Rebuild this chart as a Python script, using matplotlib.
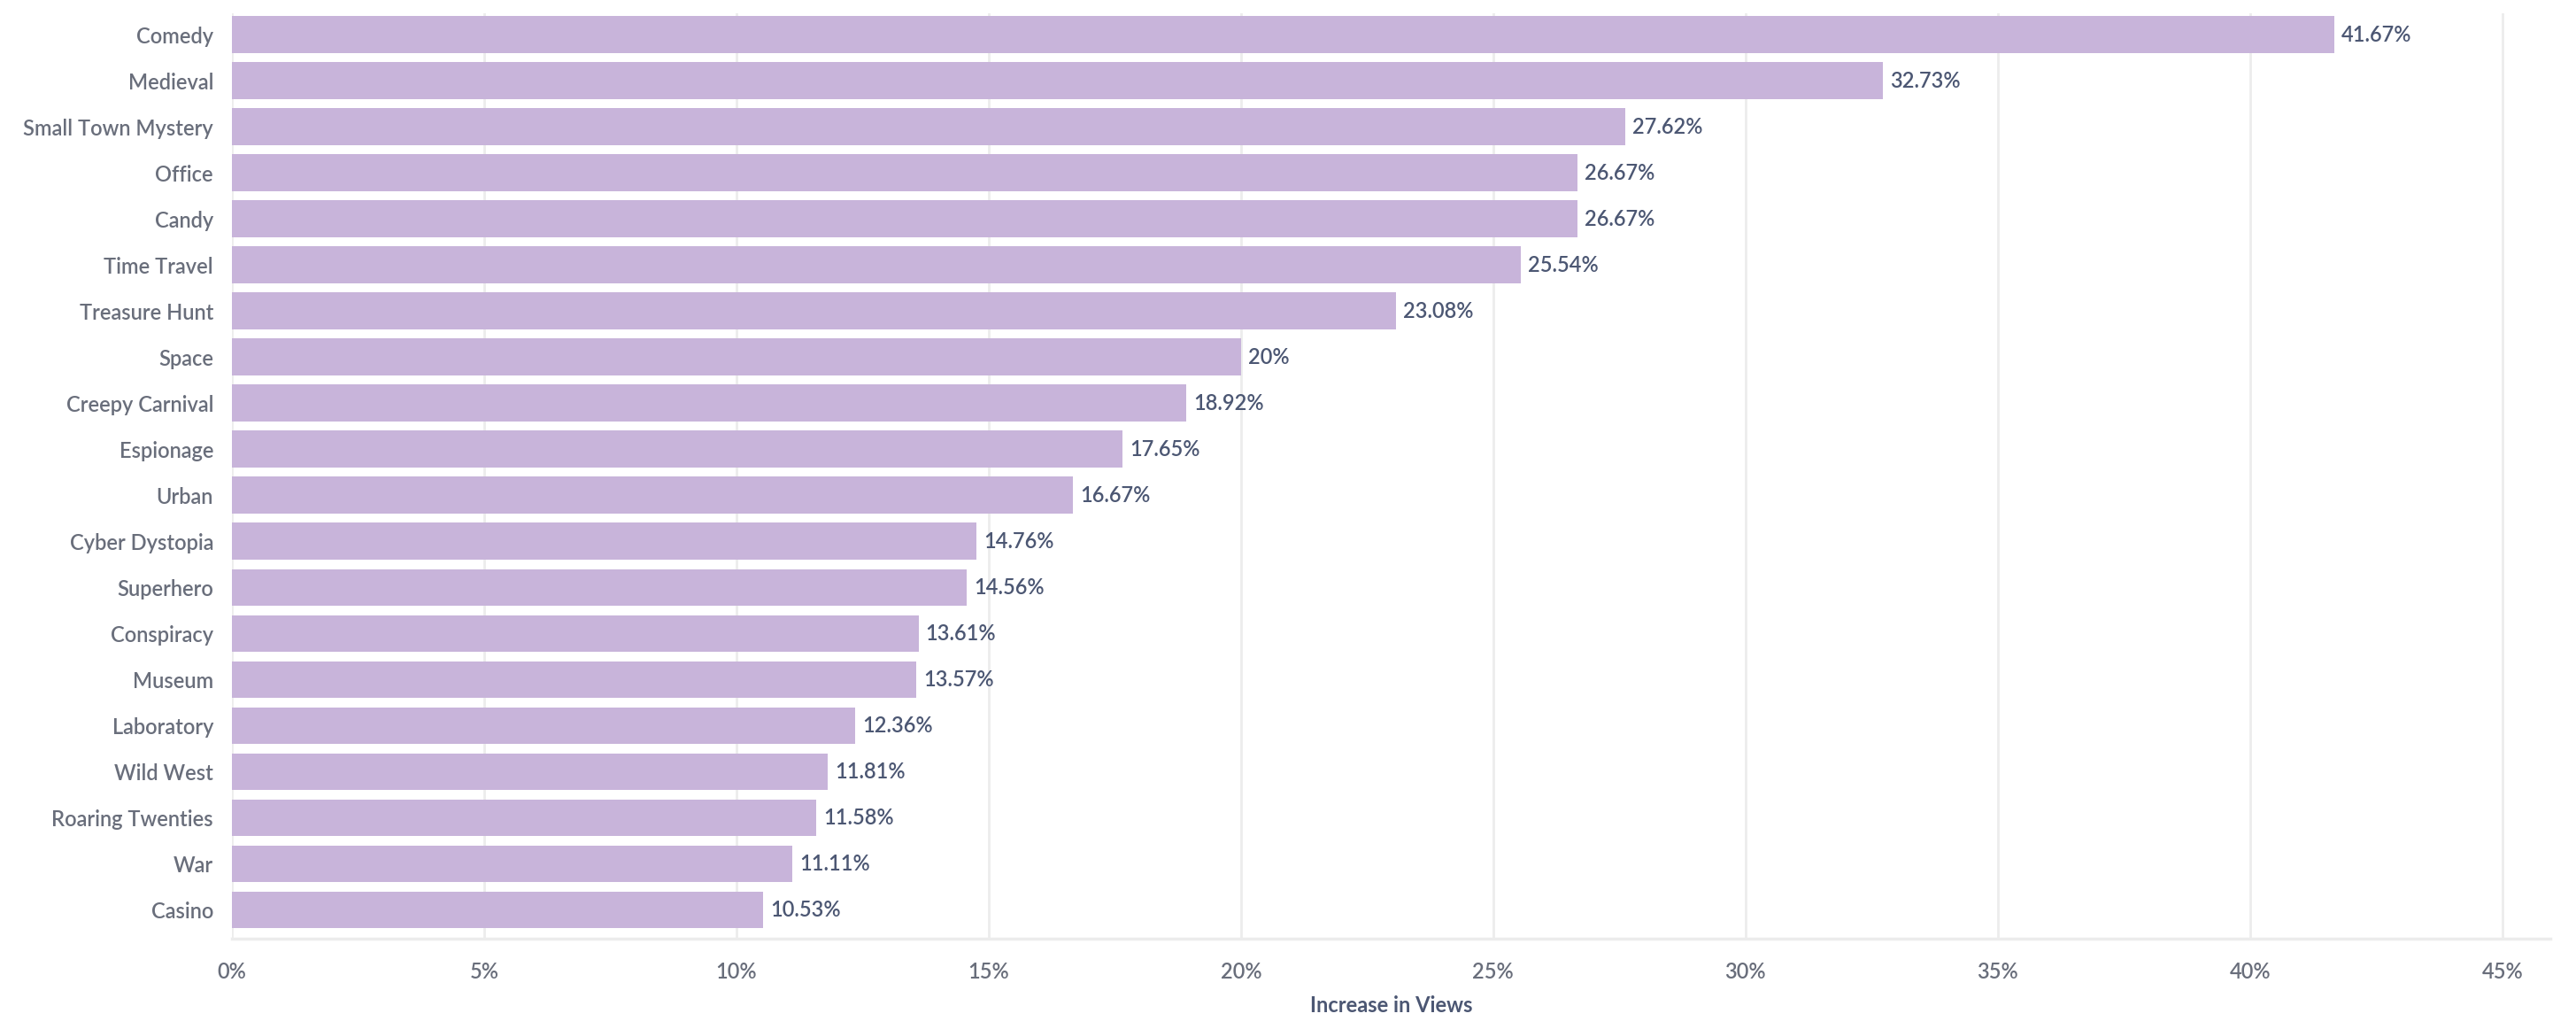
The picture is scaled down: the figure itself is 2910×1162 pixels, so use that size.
import matplotlib.pyplot as plt
from matplotlib.ticker import FuncFormatter

plt.rcParams['font.family'] = ['Lato', 'DejaVu Sans']

categories = ['Comedy', 'Medieval', 'Small Town Mystery', 'Office', 'Candy',
              'Time Travel', 'Treasure Hunt', 'Space', 'Creepy Carnival',
              'Espionage', 'Urban', 'Cyber Dystopia', 'Superhero', 'Conspiracy',
              'Museum', 'Laboratory', 'Wild West', 'Roaring Twenties', 'War',
              'Casino']
increase = [41.67, 32.73, 27.62, 26.67, 26.67, 25.54, 23.08, 20, 18.92, 17.65,
            16.67, 14.76, 14.56, 13.61, 13.57, 12.36, 11.81, 11.58, 11.11, 10.53]
x_ticks = [0, 5, 10, 15, 20, 25, 30, 35, 40, 45]

bar_color = '#c8b4da'
label_color = '#696e7b'
value_color = '#4c5773'
grid_color = '#ececec'

fig = plt.figure(figsize=(29.1, 11.62), dpi=100)
ax = fig.add_axes([0.090, 0.088, 0.900, 0.899])

pos = list(range(len(categories)))
ax.barh(pos, increase, height=0.8, color=bar_color, zorder=2)

for p, v in zip(pos, increase):
    txt = ('%.2f' % v).rstrip('0').rstrip('.') + '%'
    ax.annotate(txt, (v, p), xytext=(8, 0), textcoords='offset pixels',
                va='center', ha='left', fontsize=17, color=value_color,
                fontweight='semibold')

ax.set_yticks(pos)
ax.set_yticklabels(categories, fontweight='semibold')
ax.set_ylim(len(categories) - 1 + 0.62, -0.46)
ax.set_xlim(0, 45.95)
ax.set_xticks(x_ticks)
ax.xaxis.set_major_formatter(FuncFormatter(lambda v, _: '%d%%' % v))
for t in ax.get_xticklabels():
    t.set_fontweight('semibold')

ax.grid(axis='x', color=grid_color, linewidth=2, zorder=0)
ax.tick_params(axis='both', length=0, labelsize=17, labelcolor=label_color)
ax.tick_params(axis='y', pad=15)
ax.tick_params(axis='x', pad=19)
for s in ['top', 'right', 'left']:
    ax.spines[s].set_visible(False)
ax.spines['bottom'].set_color(grid_color)
ax.spines['bottom'].set_linewidth(2.5)

ax.set_xlabel('Increase in Views', fontsize=17, color=value_color,
              fontweight='bold', labelpad=11)

fig.savefig('out.png', dpi=100)
